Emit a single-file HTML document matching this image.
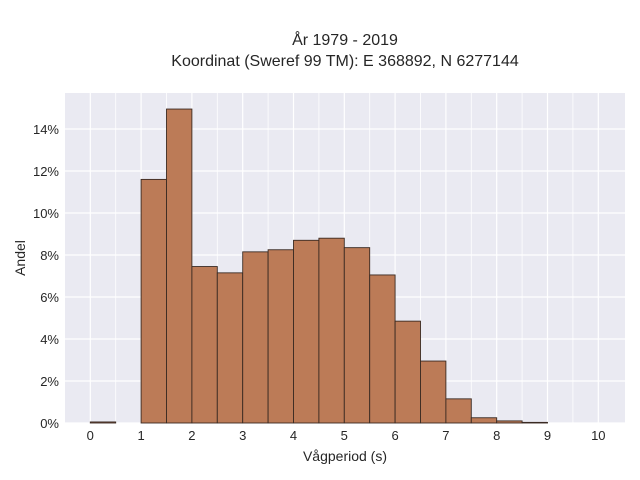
<!DOCTYPE html>
<html><head><meta charset="utf-8"><style>
body{margin:0;background:#fff;}
svg{display:block;font-family:"Liberation Sans",sans-serif;}
</style></head><body>
<svg id="chart" width="640" height="480">
<text x="345" y="45" text-anchor="middle" font-size="16" fill="#262626">År 1979 - 2019</text>
<text x="345" y="66" text-anchor="middle" font-size="16" fill="#262626">Koordinat (Sweref 99 TM): E 368892, N 6277144</text>
<rect x="65" y="93" width="560" height="330" fill="#eaeaf2"/>
<g id="grid"></g><g id="bars"></g><g id="ticks"></g>
<text x="345" y="461" text-anchor="middle" font-size="14" fill="#262626">Vågperiod (s)</text>
<text transform="translate(25,258) rotate(-90)" text-anchor="middle" font-size="14" fill="#262626">Andel</text>
</svg>
<script>
const binStarts=[0,0.5,1,1.5,2,2.5,3,3.5,4,4.5,5,5.5,6,6.5,7,7.5,8,8.5,9,9.5];
const shares=[0.05,0,11.6,14.95,7.45,7.15,8.15,8.25,8.7,8.8,8.35,7.05,4.85,2.95,1.15,0.25,0.1,0.03,0,0];
const xTicks=[0,1,2,3,4,5,6,7,8,9,10];
const yTicks=[0,2,4,6,8,10,12,14];
const binWidth=0.5;
const NS="http://www.w3.org/2000/svg";
const X=v=>90.3+v*50.8, Y=v=>423-v*21;
const grid=document.getElementById('grid'),bars=document.getElementById('bars'),ticks=document.getElementById('ticks');
for(let v=0;v<=10;v+=0.5){const l=document.createElementNS(NS,'line');


l.setAttribute('x1',X(v));l.setAttribute('x2',X(v));l.setAttribute('y1',93);l.setAttribute('y2',423);
l.setAttribute('stroke','#fff');l.setAttribute('stroke-width',v%1===0?1.2:0.8);grid.appendChild(l);}
yTicks.forEach(v=>{const l=document.createElementNS(NS,'line');


l.setAttribute('x1',65);l.setAttribute('x2',625);l.setAttribute('y1',Y(v));l.setAttribute('y2',Y(v));
l.setAttribute('stroke','#fff');l.setAttribute('stroke-width',1.2);grid.appendChild(l);
const t=document.createElementNS(NS,'text');


t.setAttribute('x',59);t.setAttribute('y',Y(v)+5);t.setAttribute('text-anchor','end');t.setAttribute('font-size','13');t.setAttribute('fill','#262626');t.textContent=v+'%';ticks.appendChild(t);});
xTicks.forEach(v=>{const t=document.createElementNS(NS,'text');


t.setAttribute('x',X(v));t.setAttribute('y',440);t.setAttribute('text-anchor','middle');t.setAttribute('font-size','13');t.setAttribute('fill','#262626');t.textContent=v;ticks.appendChild(t);});
binStarts.forEach((b,i)=>{const v=shares[i];if(v<=0)return;const r=document.createElementNS(NS,'rect');


r.setAttribute('x',X(b));r.setAttribute('width',X(b+binWidth)-X(b));r.setAttribute('y',Y(v));r.setAttribute('height',Y(0)-Y(v));
r.setAttribute('fill','#bc7b57');r.setAttribute('stroke','#3a2a22');r.setAttribute('stroke-width','0.9');bars.appendChild(r);});
</script>
</body></html>
